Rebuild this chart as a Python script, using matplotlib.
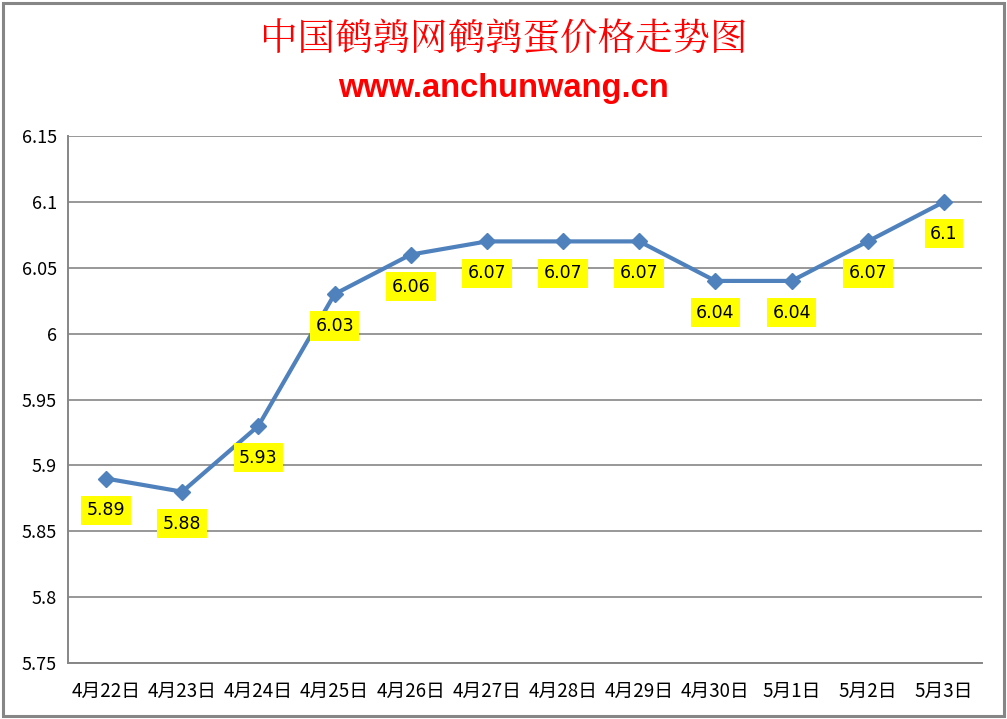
import matplotlib.pyplot as plt
from matplotlib.patches import FancyBboxPatch

plt.rcParams['font.family'] = ['Noto Sans CJK SC', 'DejaVu Sans']

dates = ["4月22日", "4月23日", "4月24日", "4月25日", "4月26日", "4月27日",
         "4月28日", "4月29日", "4月30日", "5月1日", "5月2日", "5月3日"]
prices = [5.89, 5.88, 5.93, 6.03, 6.06, 6.07, 6.07, 6.07, 6.04, 6.04, 6.07, 6.1]
y_ticks = [5.75, 5.8, 5.85, 5.9, 5.95, 6.0, 6.05, 6.1, 6.15]
y_tick_labels = ["5.75", "5.8", "5.85", "5.9", "5.95", "6", "6.05", "6.1", "6.15"]

fig = plt.figure(figsize=(10.07, 7.19), dpi=100)
ax = fig.add_axes([68 / 1007, 1 - 663 / 719, 914 / 1007, 527 / 719])

# outer chart border
fig.patches.append(FancyBboxPatch((0.003, 0.004), 0.994, 0.992, boxstyle="square,pad=0",
                                  transform=fig.transFigure, fill=False,
                                  edgecolor="#868686", linewidth=2.2))

x = list(range(len(dates)))
ax.plot(x, prices, color="#4F81BD", linewidth=3, marker="D", markersize=8,
        markerfacecolor="#4F81BD", markeredgecolor="#4F81BD", zorder=3)

for xi, p in zip(x, prices):
    ax.annotate(f"{p:g}", (xi, p), xytext=(0, -23), textcoords="offset points",
                ha="center", va="center", fontsize=12.5, family="DejaVu Sans",
                bbox=dict(boxstyle="square,pad=0.32", facecolor="#FFFF00", edgecolor="none"),
                zorder=4)

ax.set_xlim(-0.5, len(dates) - 0.5)
ax.set_ylim(5.75, 6.15)
ax.set_yticks(y_ticks)
ax.set_yticklabels(y_tick_labels)
ax.set_xticks(x)
ax.set_xticklabels(dates)
ax.tick_params(axis="both", length=0)
ax.tick_params(axis="y", pad=8, labelsize=13)
ax.tick_params(axis="x", pad=13, labelsize=13.5)
ax.grid(axis="y", color="#868686", linewidth=1.2)
ax.set_axisbelow(True)
for side in ["top", "right"]:
    ax.spines[side].set_visible(False)
for side in ["left", "bottom"]:
    ax.spines[side].set_color("#868686")
    ax.spines[side].set_linewidth(1.4)

fig.text(0.5, 1 - 41 / 719, "中国鹌鹑网鹌鹑蛋价格走势图", ha="center", va="center",
         color="#FF0000", fontsize=27, family=["Noto Serif CJK SC", "Noto Sans CJK SC"])
fig.text(0.5, 1 - 88 / 719, "www.anchunwang.cn", ha="center", va="center",
         color="#FF0000", fontsize=23.5, fontweight="bold", family="Liberation Sans")

fig.savefig("out.png", dpi=100)
